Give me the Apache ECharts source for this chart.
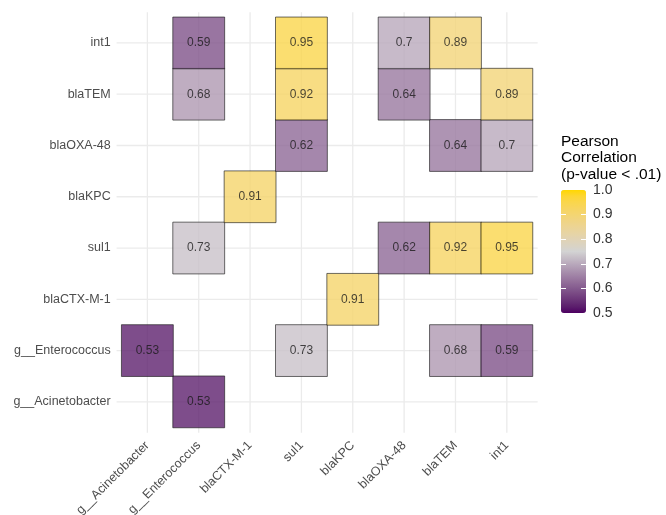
<!DOCTYPE html>
<html>
<head>
<meta charset="utf-8">
<script src="https://cdn.jsdelivr.net/npm/echarts@6/dist/echarts.min.js"></script>
<style>
  html, body { margin: 0; padding: 0; background: #ffffff; }
  #chart { width: 666px; height: 515px; }
</style>
</head>
<body>
<div id="chart"></div>
<script>
// Gene / taxon names, used for both axes (y runs bottom to top)
const features = ['g__Acinetobacter', 'g__Enterococcus', 'blaCTX-M-1', 'sul1',
                  'blaKPC', 'blaOXA-48', 'blaTEM', 'int1'];

// Significant Pearson correlations for each row (null = not significant)
const row_g__Acinetobacter = [null, 0.53, null, null, null, null, null, null];
const row_g__Enterococcus  = [0.53, null, null, 0.73, null, null, 0.68, 0.59];
const row_blaCTX_M_1       = [null, null, null, null, 0.91, null, null, null];
const row_sul1             = [null, 0.73, null, null, null, 0.62, 0.92, 0.95];
const row_blaKPC           = [null, null, 0.91, null, null, null, null, null];
const row_blaOXA_48        = [null, null, null, 0.62, null, null, 0.64, 0.7];
const row_blaTEM           = [null, 0.68, null, 0.92, null, 0.64, null, 0.89];
const row_int1             = [null, 0.59, null, 0.95, null, 0.7, 0.89, null];

// Colour bar range and breaks
const scaleMin = 0.5;
const scaleMax = 1.0;
const legendStep = 0.1;

const rows = [row_g__Acinetobacter, row_g__Enterococcus, row_blaCTX_M_1, row_sul1,
              row_blaKPC, row_blaOXA_48, row_blaTEM, row_int1];

const cells = [];
rows.forEach((row, yi) => {
  row.forEach((v, xi) => {
    if (v !== null) cells.push([xi, yi, v]);
  });
});

// --- diverging palette interpolated in CIE Lab (low -> mid -> high) ---
function hexToRgb(h) {
  return [1, 3, 5].map(i => parseInt(h.substr(i, 2), 16));
}
function toLin(c) { c /= 255; return c <= 0.04045 ? c / 12.92 : Math.pow((c + 0.055) / 1.055, 2.4); }
function fromLin(c) {
  const v = c <= 0.0031308 ? 12.92 * c : 1.055 * Math.pow(c, 1 / 2.4) - 0.055;
  return Math.round(Math.min(1, Math.max(0, v)) * 255);
}
const WX = 0.95047, WY = 1.0, WZ = 1.08883;
function fLab(t) { return t > 0.008856 ? Math.cbrt(t) : 7.787 * t + 16 / 116; }
function fInv(t) { return t > 0.206893 ? t * t * t : (t - 16 / 116) / 7.787; }
function rgbToLab(rgb) {
  const [r, g, b] = rgb.map(toLin);
  const x = 0.4124 * r + 0.3576 * g + 0.1805 * b;
  const y = 0.2126 * r + 0.7152 * g + 0.0722 * b;
  const z = 0.0193 * r + 0.1192 * g + 0.9505 * b;
  const fx = fLab(x / WX), fy = fLab(y / WY), fz = fLab(z / WZ);
  return [116 * fy - 16, 500 * (fx - fy), 200 * (fy - fz)];
}
function labToHex(lab) {
  const fy = (lab[0] + 16) / 116, fx = fy + lab[1] / 500, fz = fy - lab[2] / 200;
  const x = WX * fInv(fx), y = WY * fInv(fy), z = WZ * fInv(fz);
  const r = 3.2406 * x - 1.5372 * y - 0.4986 * z;
  const g = -0.9689 * x + 1.8758 * y + 0.0415 * z;
  const b = 0.0557 * x - 0.2040 * y + 1.0570 * z;
  return '#' + [r, g, b].map(fromLin).map(v => v.toString(16).padStart(2, '0')).join('');
}
function labRamp(c1, c2, n) {
  const a = rgbToLab(hexToRgb(c1)), b = rgbToLab(hexToRgb(c2));
  const out = [];
  for (let i = 0; i <= n; i++) {
    const t = i / n;
    out.push(labToHex([0, 1, 2].map(k => a[k] + (b[k] - a[k]) * t)));
  }
  return out;
}
const lowColor = '#4d0061', midColor = '#d3d3d3', highColor = '#ffd700';
const paletteStops = labRamp(lowColor, midColor, 10).concat(labRamp(midColor, highColor, 10).slice(1));

const FONT = 'Liberation Sans';
const gridColor = '#ebebeb';

const chart = echarts.init(document.getElementById('chart'), null, { renderer: 'canvas' });

chart.setOption({
  backgroundColor: '#ffffff',
  animation: false,
  textStyle: { fontFamily: FONT },
  title: {
    text: 'Pearson\nCorrelation\n(p-value < .01)',
    left: 561,
    top: 133,
    padding: 0,
    textStyle: { fontFamily: FONT, fontSize: 15.5, fontWeight: 'normal', color: '#000000', lineHeight: 16.5 }
  },
  grid: [
    { left: 121.7, right: 133.5, top: 17.3, bottom: 87.5, containLabel: false, outerBoundsMode: 'none' },
    { left: 561, top: 190, width: 25, height: 123, containLabel: false, outerBoundsMode: 'none' }
  ],
  xAxis: [
    {
      type: 'category',
      gridIndex: 0,
      data: features,
      axisLine: { show: false },
      axisTick: { show: false },
      splitLine: { show: false },
      axisLabel: {
        rotate: 45, margin: 16, interval: 0,
        fontFamily: FONT, fontSize: 12.5, color: '#4d4d4d'
      }
    },
    {
      type: 'value', gridIndex: 1, min: 0, max: 1, show: false
    }
  ],
  yAxis: [
    {
      type: 'category',
      gridIndex: 0,
      data: features,
      axisLine: { show: false },
      axisTick: { show: false },
      splitLine: { show: false },
      axisLabel: {
        margin: 11, interval: 0,
        fontFamily: FONT, fontSize: 12.5, color: '#4d4d4d'
      }
    },
    {
      // colour-bar scale: labels on the right, short white ticks on both edges
      type: 'value', gridIndex: 1, position: 'right',
      min: scaleMin, max: scaleMax, interval: legendStep,
      axisLine: { show: false },
      axisTick: { show: false },
      splitLine: {
        show: true, showMinLine: false, showMaxLine: false,
        lineStyle: { color: '#ffffff', width: 1, type: [5, 15] }
      },
      axisLabel: {
        margin: 7, fontFamily: FONT, fontSize: 14, color: '#333333',
        formatter: v => v.toFixed(1)
      },
      z: 10
    }
  ],
  visualMap: {
    type: 'continuous',
    seriesIndex: 1,
    min: scaleMin,
    max: scaleMax,
    calculable: false,
    left: 561,
    top: 190,
    padding: 0,
    itemWidth: 25,
    itemHeight: 123,
    text: null,
    z: 1,
    inRange: { color: paletteStops }
  },
  series: [
    {
      // panel grid lines through each category centre, reaching past the tiles
      type: 'custom',
      xAxisIndex: 0,
      yAxisIndex: 0,
      silent: true,
      clip: false,
      z: 1,
      data: features.map((f, i) => [i, i]),
      renderItem(params, api) {
        const cs = params.coordSys;
        const band = api.size([1, 1]);
        const ex = band[0] * 0.1;
        const ey = band[1] * 0.1;
        const p = api.coord([api.value(0), api.value(1)]);
        const st = { stroke: gridColor, lineWidth: 1.3 };
        return {
          type: 'group',
          children: [
            { type: 'line', shape: { x1: p[0], y1: cs.y - ey, x2: p[0], y2: cs.y + cs.height + ey }, style: st },
            { type: 'line', shape: { x1: cs.x - ex, y1: p[1], x2: cs.x + cs.width + ex, y2: p[1] }, style: st }
          ]
        };
      }
    },
    {
      type: 'heatmap',
      xAxisIndex: 0,
      yAxisIndex: 0,
      z: 2,
      data: cells,
      itemStyle: { opacity: 0.8, borderColor: '#1a1a1a', borderWidth: 0.8 },
      label: {
        show: true,
        fontFamily: FONT,
        fontSize: 12,
        color: '#1a1a1a',
        formatter: p => String(p.value[2])
      },
      emphasis: { disabled: true }
    },
    {
      // anchors the colour-bar axes
      type: 'scatter',
      xAxisIndex: 1,
      yAxisIndex: 1,
      data: [],
      silent: true
    }
  ]
});
</script>
</body>
</html>
